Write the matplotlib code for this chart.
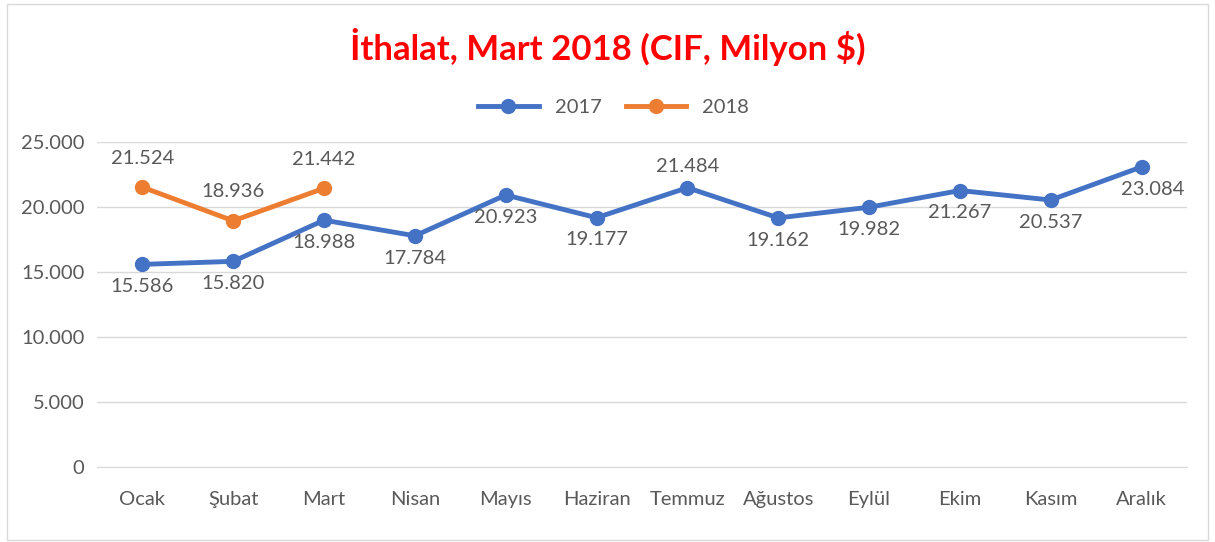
import matplotlib.pyplot as plt
from matplotlib.patches import Rectangle

plt.rcParams['font.family'] = ['Lato', 'DejaVu Sans']

months = ['Ocak', 'Şubat', 'Mart', 'Nisan', 'Mayıs', 'Haziran', 'Temmuz',
          'Ağustos', 'Eylül', 'Ekim', 'Kasım', 'Aralık']
imports_2017 = [15586, 15820, 18988, 17784, 20923, 19177, 21484,
                19162, 19982, 21267, 20537, 23084]
imports_2018 = [21524, 18936, 21442]
# label placement for 2017 series: 'b' below, 'a' above
pos_2017 = ['b', 'b', 'b', 'b', 'b', 'b', 'a', 'b', 'b', 'b', 'b', 'b']
yticks = [0, 5000, 10000, 15000, 20000, 25000]

blue = '#4472C4'
orange = '#ED7D31'
gray = '#595959'

def fmt(v):
    return f"{v:,}".replace(',', '.')

fig = plt.figure(figsize=(12.15, 5.42), dpi=100)
ax = fig.add_axes([97 / 1215, 1 - 467 / 542, 1090 / 1215, 325 / 542])

x17 = list(range(len(imports_2017)))
x18 = list(range(len(imports_2018)))
ax.plot(x17, imports_2017, color=blue, lw=3.5, marker='o', ms=10, label='2017', zorder=3)
ax.plot(x18, imports_2018, color=orange, lw=3.5, marker='o', ms=10, label='2018', zorder=4)

for i, v in enumerate(imports_2017):
    dy = 15 if pos_2017[i] == 'a' else -16
    dx = 8 if i == len(imports_2017) - 1 else 0
    ax.annotate(fmt(v), (i, v), xytext=(dx, dy), textcoords='offset points',
                ha='center', va='center', fontsize=14.5, color=gray)
for i, v in enumerate(imports_2018):
    ax.annotate(fmt(v), (i, v), xytext=(0, 21), textcoords='offset points',
                ha='center', va='center', fontsize=14.5, color=gray)

ax.set_xlim(-0.5, len(months) - 0.5)
ax.set_ylim(0, 25000)
ax.set_yticks(yticks)
ax.set_yticklabels([fmt(t) for t in yticks])
ax.set_xticks(x17)
ax.set_xticklabels(months)
ax.tick_params(axis='both', length=0, labelsize=14.5, colors=gray)
ax.tick_params(axis='x', pad=17)
ax.tick_params(axis='y', pad=9)
ax.grid(axis='y', color='#D9D9D9', lw=1)
ax.set_axisbelow(True)
for s in ['top', 'right', 'left']:
    ax.spines[s].set_visible(False)
ax.spines['bottom'].set_color('#D9D9D9')

fig.text(0.5, 1 - 47 / 542, 'İthalat, Mart 2018 (CIF, Milyon $)', ha='center', va='center',
         fontsize=25, fontweight='bold', color='#FF0000')
fig.legend(loc='center', bbox_to_anchor=(0.505, 1 - 107 / 542), ncol=2, frameon=False,
           fontsize=14.5, labelcolor=gray, handlelength=3, columnspacing=1.2)

fig.add_artist(Rectangle((7 / 1215, 2 / 542), 1201 / 1215, 536 / 542, transform=fig.transFigure,
                         fill=False, edgecolor='#D9D9D9', lw=1))

fig.savefig('out.png', dpi=100)
